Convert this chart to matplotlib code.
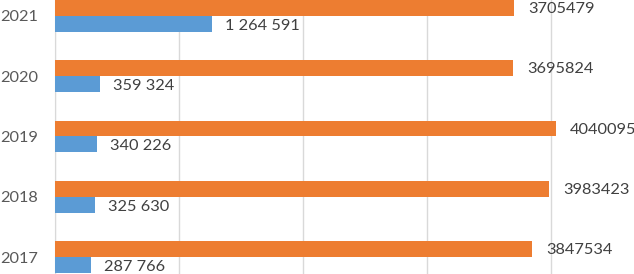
import numpy as np
import matplotlib.pyplot as plt

years = ["2017", "2018", "2019", "2020", "2021"]
orange_vals = [3847534, 3983423, 4040095, 3695824, 3705479]
blue_vals = [287766, 325630, 340226, 359324, 1264591]

plt.rcParams['font.family'] = ['Lato', 'DejaVu Sans']

fig = plt.figure(figsize=(6.34, 2.74), dpi=100)
ax = fig.add_axes([55 / 634, 0, 579 / 634, 1])

y = np.arange(len(years))
h = 0.265
ob = ax.barh(y + h / 2, orange_vals, height=h, color="#ED7D31", zorder=3)
bb = ax.barh(y - h / 2, blue_vals, height=h, color="#5B9BD5", zorder=3)

for rect, v in zip(ob, orange_vals):
    ax.annotate(str(v), (rect.get_width(), rect.get_y() + rect.get_height() / 2),
                xytext=(14, -1), textcoords="offset pixels", va="center", ha="left",
                fontsize=11.8, color="#404040")
for rect, v in zip(bb, blue_vals):
    ax.annotate("{:,}".format(v).replace(",", " "), (rect.get_width(), rect.get_y() + rect.get_height() / 2),
                xytext=(13, -2), textcoords="offset pixels", va="center", ha="left",
                fontsize=11.8, color="#404040")

ax.set_xlim(0, 579 / 124 * 1e6)
ax.set_ylim(-0.282, 4.265)
ax.set_xticks(np.arange(0, 5e6, 1e6))
ax.set_xticklabels([])
ax.tick_params(axis="x", length=0)
ax.set_yticks(y)
ax.set_yticklabels(years, fontsize=11.8, color="#595959")
ax.tick_params(axis="y", length=0, pad=12)
ax.grid(axis="x", color="#d9d9d9", linewidth=1, zorder=0)
for s in ["top", "right", "bottom"]:
    ax.spines[s].set_visible(False)
ax.spines["left"].set_color("#d9d9d9")

fig.savefig("out.png", dpi=100)
